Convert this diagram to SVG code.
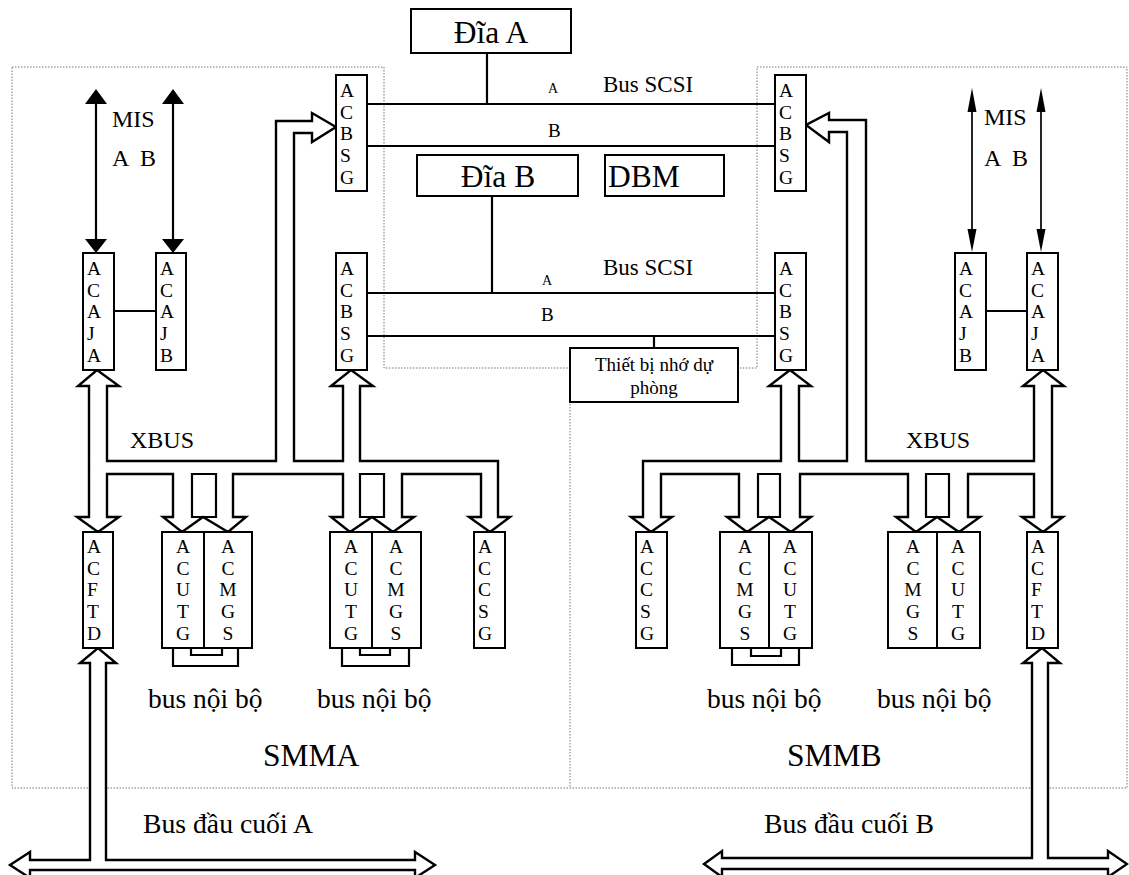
<svg xmlns="http://www.w3.org/2000/svg" width="1129" height="875" viewBox="0 0 1129 875" font-family="'Liberation Serif', 'Times New Roman', 'DejaVu Serif', serif">
<style>
text{font-family:'Liberation Serif','Times New Roman','DejaVu Serif',serif;fill:#000}
.bx{fill:#fff;stroke:#000;stroke-width:2}
.ln{fill:none;stroke:#000;stroke-width:2.2;stroke-linejoin:miter}
.bus{fill:#fff;stroke:#000;stroke-width:2.4;stroke-linejoin:miter}
.dot{fill:none;stroke:#777;stroke-width:1;stroke-dasharray:1.5 1.5}
.v{font-size:19.5px}
.vc{font-size:19.5px;text-anchor:middle}
.big{font-size:31.5px}
.mid{font-size:24px}
.scsi{font-size:23px}
.nb{font-size:27.5px}
.sm{font-size:14px}
</style>

<!-- dotted outlines -->
<path class="dot" d="M12,67 H384 V368 H757 V67 H1127 V788 H12 Z M570,368 V788"/>

<g id="connectors">
<!-- SCSI buses -->
<path class="ln" d="M367,104 H775 M367,146 H775 M487,53 V104 M367,293 H775 M367,336 H775 M492,196 V293 M654,336 V348"/>
<!-- ACAJA-ACAJB links -->
<path class="ln" d="M114,311 H156 M986,311 H1027"/>
<!-- MIS arrows -->
<path class="ln" d="M96,100 V243 M173,100 V243"/>
<path d="M96,89 L85,104 L107,104 Z M96,253 L85,239 L107,239 Z M173,89 L162,104 L184,104 Z M173,253 L162,239 L184,239 Z" fill="#000"/>
<path class="ln" style="stroke-width:1.7" d="M972,105 V235 M1041,105 V235"/>
<path d="M972,88 L967.5,112 L976.5,112 Z M972,252 L967.5,229 L976.5,229 Z M1041,88 L1036.5,112 L1045.5,112 Z M1041,252 L1036.5,229 L1045.5,229 Z" fill="#000"/>
<!-- XBUS SMMA -->
<path class="bus" d="M312,121 H276 V461 H107 V386 H119 L97,370 L78,386 H89 V517 H77 L98,532 L119,517 H107 V474 H173 V517 H163 L182,532 L203,517 L228,532 L246,517 H233 V474 H343 V517 H331 L350,532 L372,517 L393,532 L414,517 H402 V474 H481 V517 H469 L490,532 L510,517 H498 V461 H360 V386 H373 L351,370 L331,386 H343 V461 H294 V133 H312 V142 L336,127 L312,113 Z"/>
<path class="ln" d="M192,517 V474 H216 V517 Z M360,517 V474 H384 V517 Z"/>
<!-- XBUS SMMB -->
<path class="bus" d="M829,120 H866 V461 H1034 V386 H1023 L1043,370 L1064,386 H1052 V517 H1063 L1043,532 L1022,517 H1034 V474 H968 V517 H980 L959,532 L937,517 L916,532 L896,517 H908 V474 H800 V517 H811 L791,532 L769,517 L747,532 L727,517 H739 V474 H661 V517 H672 L651,532 L631,517 H643 V461 H781 V386 H769 L790,370 L811,386 H799 V461 H847 V132 H829 V142 L806,125 L829,113 Z"/>
<path class="ln" d="M758,517 V474 H780 V517 Z M926,517 V474 H949 V517 Z"/>
<!-- terminal buses -->
<path class="bus" d="M90,663 H80 L98,648 L116,663 H106 V860 H415 V852 L435,865 L415,878 V870 H30 V878 L10,865 L30,852 V860 H90 Z"/>
<path class="bus" d="M1032,663 H1023 L1042,648 L1060,663 H1048 V858 H1108 V851 L1127,864 L1108,877 V869 H722 V877 L704,864 L722,851 V858 H1032 Z"/>
<!-- internal buses -->
<path class="ln" d="M173,648 V666 H238 V648 M191,648 V655 H222 V648 M342,648 V666 H409 V648 M360,648 V655 H390 V648 M732,648 V665 H799 V648 M751,648 V656 H781 V648"/>
</g>

<g id="diaA"><rect class="bx" x="411" y="9" width="160" height="44"/><text class="big" x="491" y="43" text-anchor="middle">Đĩa A</text></g>
<g id="diaB"><rect class="bx" x="417" y="155" width="161" height="41"/><text class="big" x="498" y="187" text-anchor="middle">Đĩa B</text></g>
<g id="dbm"><rect class="bx" x="605" y="155" width="119" height="41"/><text class="big" x="608" y="187">DBM</text></g>
<g id="backup"><rect class="bx" x="570" y="348" width="168" height="54"/><text style="font-size:19px" x="654" y="371" text-anchor="middle">Thiết bị nhớ dự</text><text style="font-size:19px" x="654" y="394" text-anchor="middle">phòng</text></g>

<g id="acbsg-tl"><rect class="bx" x="336" y="75" width="31" height="116"/><text class="v"><tspan x="340" y="97">A</tspan><tspan x="340" dy="21.7">C</tspan><tspan x="340" dy="21.7">B</tspan><tspan x="340" dy="21.7">S</tspan><tspan x="340" dy="21.7">G</tspan></text></g>
<g id="acbsg-bl"><rect class="bx" x="336" y="253" width="31" height="117"/><text class="v"><tspan x="340" y="275">A</tspan><tspan x="340" dy="21.7">C</tspan><tspan x="340" dy="21.7">B</tspan><tspan x="340" dy="21.7">S</tspan><tspan x="340" dy="21.7">G</tspan></text></g>
<g id="acbsg-tr"><rect class="bx" x="775" y="75" width="31" height="116"/><text class="v"><tspan x="779" y="97">A</tspan><tspan x="779" dy="21.7">C</tspan><tspan x="779" dy="21.7">B</tspan><tspan x="779" dy="21.7">S</tspan><tspan x="779" dy="21.7">G</tspan></text></g>
<g id="acbsg-br"><rect class="bx" x="775" y="253" width="31" height="117"/><text class="v"><tspan x="779" y="275">A</tspan><tspan x="779" dy="21.7">C</tspan><tspan x="779" dy="21.7">B</tspan><tspan x="779" dy="21.7">S</tspan><tspan x="779" dy="21.7">G</tspan></text></g>

<g id="acaja-l"><rect class="bx" x="83" y="253" width="31" height="117"/><text class="v"><tspan x="87" y="275">A</tspan><tspan x="87" dy="21.7">C</tspan><tspan x="87" dy="21.7">A</tspan><tspan x="87" dy="21.7">J</tspan><tspan x="87" dy="21.7">A</tspan></text></g>
<g id="acajb-l"><rect class="bx" x="156" y="253" width="30" height="117"/><text class="v"><tspan x="160" y="275">A</tspan><tspan x="160" dy="21.7">C</tspan><tspan x="160" dy="21.7">A</tspan><tspan x="160" dy="21.7">J</tspan><tspan x="160" dy="21.7">B</tspan></text></g>
<g id="acajb-r"><rect class="bx" x="955" y="253" width="31" height="117"/><text class="v"><tspan x="959" y="275">A</tspan><tspan x="959" dy="21.7">C</tspan><tspan x="959" dy="21.7">A</tspan><tspan x="959" dy="21.7">J</tspan><tspan x="959" dy="21.7">B</tspan></text></g>
<g id="acaja-r"><rect class="bx" x="1027" y="253" width="31" height="117"/><text class="v"><tspan x="1031" y="275">A</tspan><tspan x="1031" dy="21.7">C</tspan><tspan x="1031" dy="21.7">A</tspan><tspan x="1031" dy="21.7">J</tspan><tspan x="1031" dy="21.7">A</tspan></text></g>

<g id="acftd-l"><rect class="bx" x="83" y="532" width="30" height="116"/><text class="v"><tspan x="87" y="553">A</tspan><tspan x="87" dy="21.7">C</tspan><tspan x="87" dy="21.7">F</tspan><tspan x="87" dy="21.7">T</tspan><tspan x="87" dy="21.7">D</tspan></text></g>
<g id="acutg-l1"><rect class="bx" x="162" y="532" width="42" height="116"/><text class="vc"><tspan x="183" y="553">A</tspan><tspan x="183" dy="21.7">C</tspan><tspan x="183" dy="21.7">U</tspan><tspan x="183" dy="21.7">T</tspan><tspan x="183" dy="21.7">G</tspan></text></g>
<g id="acmgs-l1"><rect class="bx" x="204" y="532" width="48" height="116"/><text class="vc"><tspan x="228" y="553">A</tspan><tspan x="228" dy="21.7">C</tspan><tspan x="228" dy="21.7">M</tspan><tspan x="228" dy="21.7">G</tspan><tspan x="228" dy="21.7">S</tspan></text></g>
<g id="acutg-l2"><rect class="bx" x="330" y="532" width="42" height="116"/><text class="vc"><tspan x="351" y="553">A</tspan><tspan x="351" dy="21.7">C</tspan><tspan x="351" dy="21.7">U</tspan><tspan x="351" dy="21.7">T</tspan><tspan x="351" dy="21.7">G</tspan></text></g>
<g id="acmgs-l2"><rect class="bx" x="372" y="532" width="49" height="116"/><text class="vc"><tspan x="396" y="553">A</tspan><tspan x="396" dy="21.7">C</tspan><tspan x="396" dy="21.7">M</tspan><tspan x="396" dy="21.7">G</tspan><tspan x="396" dy="21.7">S</tspan></text></g>
<g id="accsg-l"><rect class="bx" x="474" y="532" width="31" height="116"/><text class="v"><tspan x="478" y="553">A</tspan><tspan x="478" dy="21.7">C</tspan><tspan x="478" dy="21.7">C</tspan><tspan x="478" dy="21.7">S</tspan><tspan x="478" dy="21.7">G</tspan></text></g>

<g id="accsg-r"><rect class="bx" x="636" y="532" width="31" height="116"/><text class="v"><tspan x="640" y="553">A</tspan><tspan x="640" dy="21.7">C</tspan><tspan x="640" dy="21.7">C</tspan><tspan x="640" dy="21.7">S</tspan><tspan x="640" dy="21.7">G</tspan></text></g>
<g id="acmgs-r1"><rect class="bx" x="720" y="532" width="49" height="116"/><text class="vc"><tspan x="745" y="553">A</tspan><tspan x="745" dy="21.7">C</tspan><tspan x="745" dy="21.7">M</tspan><tspan x="745" dy="21.7">G</tspan><tspan x="745" dy="21.7">S</tspan></text></g>
<g id="acutg-r1"><rect class="bx" x="769" y="532" width="43" height="116"/><text class="vc"><tspan x="790" y="553">A</tspan><tspan x="790" dy="21.7">C</tspan><tspan x="790" dy="21.7">U</tspan><tspan x="790" dy="21.7">T</tspan><tspan x="790" dy="21.7">G</tspan></text></g>
<g id="acmgs-r2"><rect class="bx" x="888" y="532" width="49" height="116"/><text class="vc"><tspan x="913" y="553">A</tspan><tspan x="913" dy="21.7">C</tspan><tspan x="913" dy="21.7">M</tspan><tspan x="913" dy="21.7">G</tspan><tspan x="913" dy="21.7">S</tspan></text></g>
<g id="acutg-r2"><rect class="bx" x="937" y="532" width="43" height="116"/><text class="vc"><tspan x="958" y="553">A</tspan><tspan x="958" dy="21.7">C</tspan><tspan x="958" dy="21.7">U</tspan><tspan x="958" dy="21.7">T</tspan><tspan x="958" dy="21.7">G</tspan></text></g>
<g id="acftd-r"><rect class="bx" x="1027" y="532" width="31" height="116"/><text class="v"><tspan x="1031" y="553">A</tspan><tspan x="1031" dy="21.7">C</tspan><tspan x="1031" dy="21.7">F</tspan><tspan x="1031" dy="21.7">T</tspan><tspan x="1031" dy="21.7">D</tspan></text></g>

<g id="labels">
<text class="mid" x="112" y="127">MIS</text>
<text class="mid" x="112" y="166" xml:space="preserve">A  B</text>
<text class="mid" x="984" y="125">MIS</text>
<text class="mid" x="984" y="166" xml:space="preserve">A  B</text>
<text class="sm" x="548" y="93">A</text>
<text class="scsi" x="603" y="92">Bus SCSI</text>
<text style="font-size:19px" x="548" y="137">B</text>
<text class="sm" x="542" y="285">A</text>
<text class="scsi" x="603" y="275">Bus SCSI</text>
<text style="font-size:19px" x="541" y="321">B</text>
<text class="mid" x="130" y="448">XBUS</text>
<text class="mid" x="906" y="448">XBUS</text>
<text class="nb" x="148" y="708">bus nội bộ</text>
<text class="nb" x="317" y="708">bus nội bộ</text>
<text class="nb" x="707" y="708">bus nội bộ</text>
<text class="nb" x="877" y="708">bus nội bộ</text>
<text class="big" x="263" y="766">SMMA</text>
<text class="big" x="787" y="766">SMMB</text>
<text style="font-size:27.7px" x="143" y="833">Bus đầu cuối A</text>
<text style="font-size:27.7px" x="764" y="833">Bus đầu cuối B</text>
</g>
</svg>
